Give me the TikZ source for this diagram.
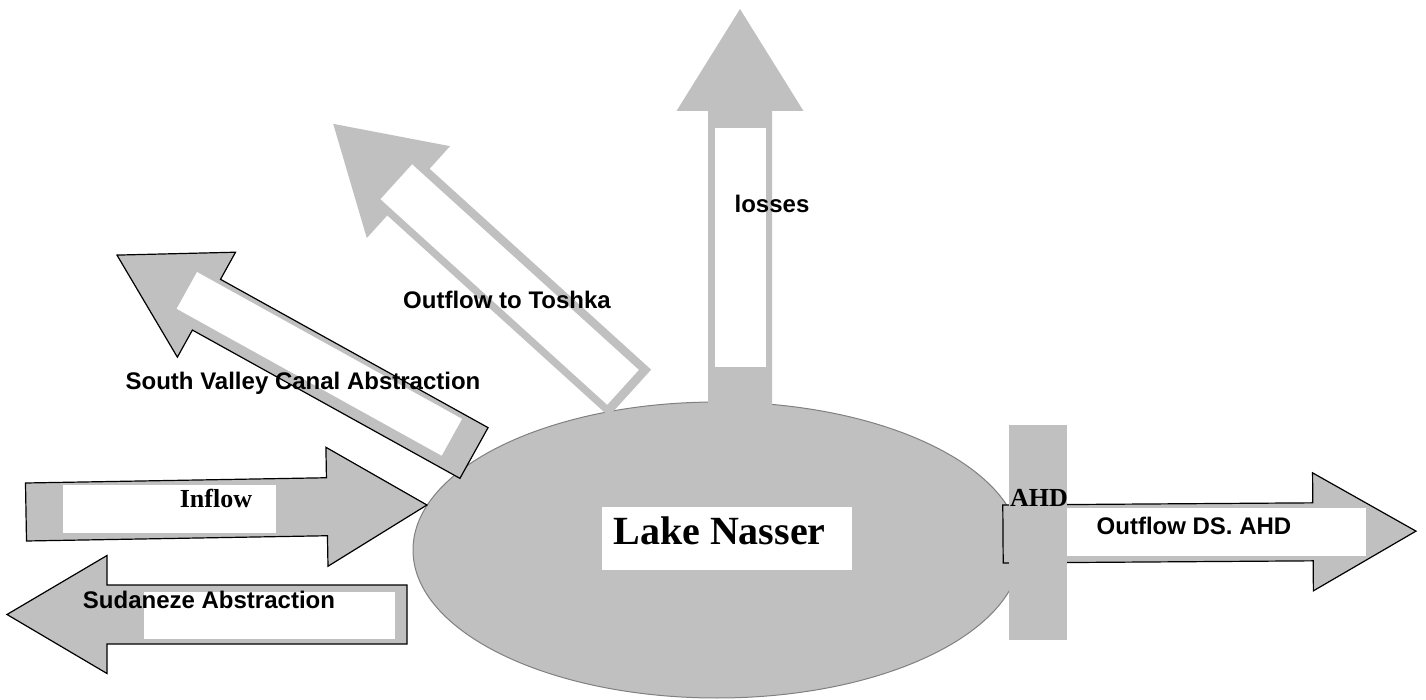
\documentclass[tikz,border=0pt]{standalone}
\usepackage{fontspec}
\setmainfont{Liberation Serif}
\setsansfont{Liberation Sans}
\usetikzlibrary{shapes.geometric}
\definecolor{flowgray}{RGB}{192,192,192}
\definecolor{rimgray}{RGB}{128,128,128}

% block arrow along local x: style, length, shaft half width, head half width, head length
\newcommand{\blockarrow}[5]{%
  \path[#1] (0,-#3) -- ({#2-#5},-#3) -- ({#2-#5},-#4) -- (#2,0)
    -- ({#2-#5},#4) -- ({#2-#5},#3) -- (0,#3) -- cycle;}

\begin{document}
\begin{tikzpicture}[x=0.5pt,y=-0.5pt]
\tikzstyle{flow} = [fill=flowgray]
\tikzstyle{edged} = [fill=flowgray, draw=black, line width=0.6pt, line join=miter]
\tikzstyle{hole} = [fill=white]
\tikzstyle{flowtext} = [font=\sffamily\bfseries\fontsize{12}{14}\selectfont, inner sep=0pt, anchor=base]
\tikzstyle{seriftext} = [font=\bfseries\fontsize{13}{15}\selectfont, inner sep=0pt, anchor=base]

\useasboundingbox (0,0) rectangle (1426,700);

\node (nasser) [ellipse, fill=flowgray, draw=rimgray, line width=0.5pt, minimum width=304pt, minimum height=148pt, inner sep=0pt] at (717,550) {};

% losses
\begin{scope}[shift={(740,405)}, rotate=90]
\blockarrow{flow}{396}{32}{63.5}{102}
\fill[hole] (38,-25) rectangle (277,26);
\end{scope}

% toshka
\begin{scope}[shift={(630,393)}, rotate=137.8]
\blockarrow{flow}{400.7}{31.5}{62}{101.6}
\fill[hole] (9,-24) rectangle (315,23);
\end{scope}

% south valley canal
\begin{scope}[shift={(474,453)}, rotate=151]
\blockarrow{edged}{408.2}{29}{60}{102.3}
\fill[hole] (27,-18) rectangle (330,24);
\end{scope}

% inflow
\begin{scope}[shift={(26,512)}, rotate=1]
\blockarrow{edged}{401}{29}{59.5}{100}
\end{scope}
\fill[hole] (63,485) rectangle (276,533);

% sudan
\begin{scope}[shift={(407,614.5)}, rotate=180]
\blockarrow{edged}{400}{29.5}{59}{100}
\end{scope}
\fill[hole] (144,592) rectangle (395,639);

% outflow below the dam
\begin{scope}[shift={(1003,534)}, rotate=0.4]
\blockarrow{edged}{413}{29}{59}{103}
\end{scope}
\fill[hole] (1066,508) rectangle (1366,556);
\node (dam) [fill=flowgray, minimum width=29pt, minimum height=107.5pt, inner sep=0pt] at (1038,532.5) {};

\node (lakebox) [fill=white, minimum width=125pt, minimum height=31.5pt, inner sep=0pt] at (727,538.5) {};
\node (lake) [seriftext, font=\bfseries\fontsize{20}{24}\selectfont] at (719.5,545) {Lake Nasser};

\node (inflow) [seriftext] at (216,508) {Inflow};
\node (ahd) [seriftext] at (1039,507) {AHD};
\node (sudan) [flowtext] at (209,608) {Sudaneze Abstraction};
\node (svc) [flowtext] at (303,390) {South Valley Canal Abstraction};
\node (toshka) [flowtext] at (507,309) {Outflow to Toshka};
\node (losses) [flowtext] at (772,213) {losses};
\node (outflow) [flowtext] at (1194,535) {Outflow DS.\ AHD};
\end{tikzpicture}
\end{document}
